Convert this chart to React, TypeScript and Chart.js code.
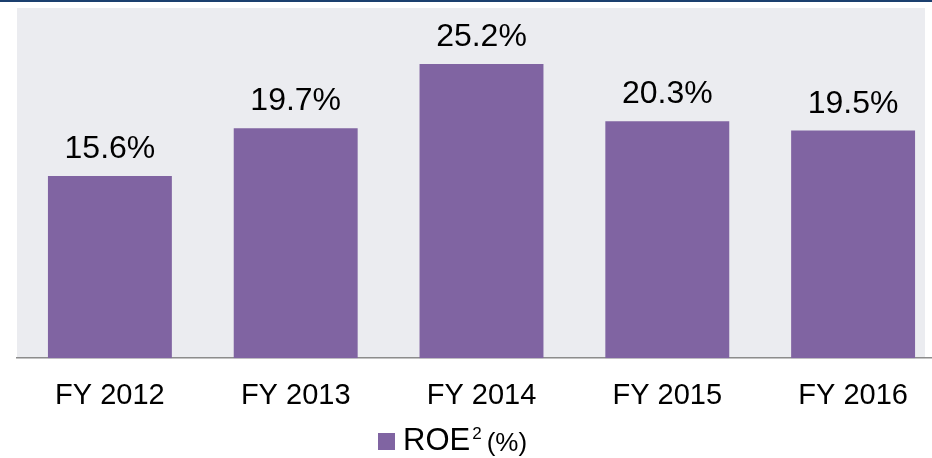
import React, { useEffect, useRef } from "react";
import { Chart, registerables } from "chart.js";

Chart.register(...registerables);

const categories = ["FY 2012", "FY 2013", "FY 2014", "FY 2015", "FY 2016"];
const roeValues = [15.6, 19.7, 25.2, 20.3, 19.5];
const valueLabels = ["15.6%", "19.7%", "25.2%", "20.3%", "19.5%"];
const legendMain = "ROE";
const legendSup = "2";
const legendSuffix = "(%)";

const FONT = '"Liberation Sans", Arial, sans-serif';
const BAR = "#8064A2";

export default function App() {
  const ref = useRef<HTMLCanvasElement | null>(null);

  useEffect(() => {
    if (!ref.current) return;
    const decor = {
      id: "decor",
      beforeDraw(chart: any) {
        const { ctx, chartArea } = chart;
        ctx.save();
        ctx.fillStyle = "#1B3F6E";
        ctx.fillRect(0, 0, chart.width, 2);
        ctx.fillStyle = "#EBECF0";
        ctx.fillRect(chartArea.left, chartArea.top, 925 - chartArea.left, chartArea.bottom - chartArea.top);
        ctx.restore();
      },
      afterDatasetsDraw(chart: any) {
        const { ctx } = chart;
        const meta = chart.getDatasetMeta(0);
        ctx.save();
        ctx.fillStyle = "#000";
        ctx.font = `32px ${FONT}`;
        ctx.textAlign = "center";
        ctx.textBaseline = "alphabetic";
        meta.data.forEach((el: any, i: number) => {
          ctx.fillText(valueLabels[i], el.x, el.y - 18);
        });
        ctx.restore();
      },
      afterDraw(chart: any) {
        const { ctx } = chart;
        ctx.save();
        ctx.fillStyle = BAR;
        ctx.fillRect(378, 433, 17, 17);
        ctx.fillStyle = "#000";
        ctx.textAlign = "left";
        ctx.textBaseline = "alphabetic";
        ctx.font = `31px ${FONT}`;
        ctx.fillText(legendMain, 403, 450);
        const w = ctx.measureText(legendMain).width;
        ctx.font = `17px ${FONT}`;
        ctx.fillText(legendSup, 403 + w + 2, 438.5);
        const w2 = ctx.measureText(legendSup).width;
        ctx.font = `26px ${FONT}`;
        ctx.fillText(legendSuffix, 403 + w + 2 + w2 + 5, 451);
        ctx.restore();
      },
    };

    const chart = new Chart(ref.current, {
      type: "bar",
      data: {
        labels: categories,
        datasets: [
          {
            label: "ROE",
            data: roeValues,
            backgroundColor: BAR,
            borderWidth: 0,
            barPercentage: 0.667,
            categoryPercentage: 1.0,
          },
        ],
      },
      options: {
        responsive: false,
        devicePixelRatio: 1,
        animation: false,
        layout: { padding: { left: 17, right: 0, top: 8, bottom: 25 } },
        plugins: { legend: { display: false }, tooltip: { enabled: false } },
        scales: {
          y: { display: false, min: 0, max: 30 },
          x: {
            grid: { display: false, drawTicks: false },
            border: { display: true, color: "#8C8C8C", width: 1.5 },
            ticks: { color: "#000", padding: 20, font: { family: FONT, size: 29 } },
          },
        },
      },
      plugins: [decor],
    });
    return () => chart.destroy();
  }, []);

  return (
    <div style={{ position: "fixed", left: 0, top: 0, width: 932, height: 458, overflow: "hidden", background: "#fff" }}>
      <canvas ref={ref} width={946} height={458} style={{ position: "absolute", left: 0, top: 0, width: 946, height: 458 }} />
    </div>
  );
}
